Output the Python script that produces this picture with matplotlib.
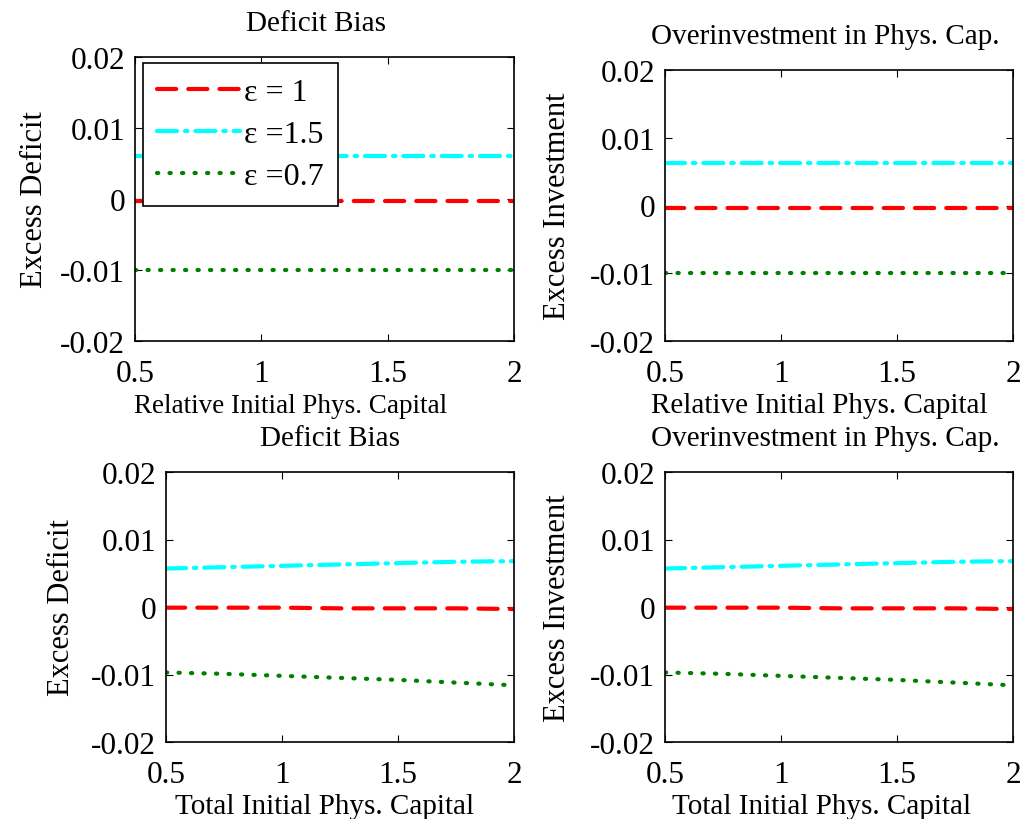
import numpy as np
import matplotlib
matplotlib.use("Agg")
import matplotlib.pyplot as plt

plt.rcParams["font.family"] = ["Liberation Serif", "DejaVu Serif"]
plt.rcParams["axes.unicode_minus"] = False

# data
x_rel = [0.5, 0.75, 1.0, 1.25, 1.5, 1.75, 2.0]
x_tot = [0.5, 0.75, 1.0, 1.25, 1.5, 1.75, 2.0]

# top row: relative initial physical capital
def_rel_eps1 = [-0.0003, -0.0003, -0.0003, -0.0003, -0.0003, -0.0003, -0.0003]
def_rel_eps15 = [0.0061, 0.0061, 0.0061, 0.0061, 0.0061, 0.0061, 0.0061]
def_rel_eps07 = [-0.0100, -0.0100, -0.0100, -0.0100, -0.0100, -0.0100, -0.0100]

inv_rel_eps1 = [-0.0003, -0.0003, -0.0003, -0.0003, -0.0003, -0.0003, -0.0003]
inv_rel_eps15 = [0.0062, 0.0062, 0.0062, 0.0062, 0.0062, 0.0062, 0.0062]
inv_rel_eps07 = [-0.0100, -0.0100, -0.0100, -0.0100, -0.0100, -0.0100, -0.0100]

# bottom row: total initial physical capital
def_tot_eps1 = [-0.0001, -0.0001, -0.0001, -0.0002, -0.0002, -0.0002, -0.0003]
def_tot_eps15 = [0.0057, 0.0059, 0.0061, 0.0063, 0.0065, 0.0067, 0.0068]
def_tot_eps07 = [-0.0097, -0.0099, -0.0102, -0.0105, -0.0108, -0.0112, -0.0116]

inv_tot_eps1 = [-0.0001, -0.0001, -0.0001, -0.0002, -0.0002, -0.0002, -0.0003]
inv_tot_eps15 = [0.0057, 0.0059, 0.0061, 0.0063, 0.0065, 0.0067, 0.0068]
inv_tot_eps07 = [-0.0097, -0.0099, -0.0102, -0.0105, -0.0108, -0.0112, -0.0116]

labels = ["\u03b5 = 1", "\u03b5 =1.5", "\u03b5 =0.7"]
xticks = [0.5, 1, 1.5, 2]
xticklabels = ["0.5", "1", "1.5", "2"]
yticks = [-0.02, -0.01, 0, 0.01, 0.02]
yticklabels = ["-0.02", "-0.01", "0", "0.01", "0.02"]

W, H = 1022, 820
fig = plt.figure(figsize=(W / 100, H / 100), dpi=100)


def px_axes(x0, y0, x1, y1):
    return fig.add_axes([x0 / W, 1 - y1 / H, (x1 - x0) / W, (y1 - y0) / H])


LW = 3
styles = [
    dict(color="#ff0000", dashes=(4.6, 2.9), dash_capstyle="round"),
    dict(color="#00ffff", dashes=(4.8, 1.9, 0.6, 1.9), dash_capstyle="round"),
    dict(color="#008000", dashes=(0.3, 2.7), dash_capstyle="round"),
]

# box, x, series, title, ylabel, xlabel, title x, xlabel x, xlabel size, ylabel pad
panels = [
    ((135, 58, 514, 342), x_rel, [def_rel_eps1, def_rel_eps15, def_rel_eps07],
     "Deficit Bias", "Excess Deficit", "Relative Initial Phys. Capital",
     0.478, 0.41, 19.5, 8),
    ((665, 71, 1013, 342), x_rel, [inv_rel_eps1, inv_rel_eps15, inv_rel_eps07],
     "Overinvestment in Phys. Cap.", "Excess Investment", "Relative Initial Phys. Capital",
     0.46, 0.443, 21, 13),
    ((166, 473, 514, 743), x_tot, [def_tot_eps1, def_tot_eps15, def_tot_eps07],
     "Deficit Bias", "Excess Deficit", "Total Initial Phys. Capital",
     0.471, 0.457, 21, 11),
    ((665, 473, 1013, 743), x_tot, [inv_tot_eps1, inv_tot_eps15, inv_tot_eps07],
     "Overinvestment in Phys. Cap.", "Excess Investment", "Total Initial Phys. Capital",
     0.46, 0.451, 21, 13),
]

axes = []
for box, xs, series, title, ylabel, xlabel, tx, lx, lsize, ypad in panels:
    ax = px_axes(*box)
    for ys, st, lab in zip(series, styles, labels):
        ax.plot(xs, ys, lw=LW, label=lab, **st)
    ax.set_xlim(0.5, 2)
    ax.set_ylim(-0.02, 0.02)
    ax.set_xticks(xticks)
    ax.set_xticklabels(xticklabels)
    ax.set_yticks(yticks)
    ax.set_yticklabels(yticklabels)
    ax.tick_params(direction="in", top=True, right=True, length=5,
                   labelsize=22.5)
    ax.tick_params(axis="x", pad=13)
    ax.tick_params(axis="y", pad=7)
    for sp in ax.spines.values():
        sp.set_linewidth(1.2)
    t = ax.set_title(title, fontsize=21, pad=19.5)
    t.set_x(tx)
    ax.set_ylabel(ylabel, fontsize=22, labelpad=ypad)
    ax.set_xlabel(xlabel, fontsize=lsize)
    # label sits a bit lower than matplotlib's default
    ax.xaxis.set_label_coords(lx, -0.183 if box[3] - box[1] > 280 else -0.19)
    axes.append(ax)

leg = axes[0].legend(loc="upper left", bbox_to_anchor=(0.021, 0.978),
                     fontsize=23, handlelength=2.6, handletextpad=0.1,
                     borderpad=0.45, labelspacing=0.4, fancybox=False,
                     framealpha=1, edgecolor="black", borderaxespad=0)
leg.get_frame().set_linewidth(1.2)

fig.savefig("out.png", dpi=100)
